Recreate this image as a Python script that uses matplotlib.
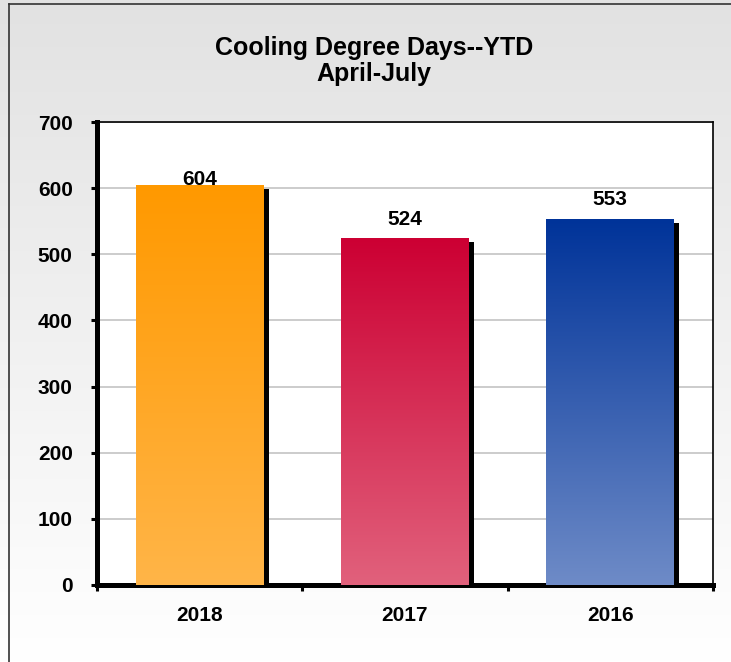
import matplotlib

matplotlib.use("Agg")

import matplotlib.pyplot as plt
import matplotlib.transforms as mtransforms
import numpy as np
from matplotlib.colors import LinearSegmentedColormap
from matplotlib.lines import Line2D

plt.rcParams["font.family"] = ["Liberation Sans", "DejaVu Sans"]
plt.rcParams["font.weight"] = "bold"

# Data
years = ["2018", "2017", "2016"]
degree_days = [604, 524, 553]
y_ticks = [0, 100, 200, 300, 400, 500, 600, 700]

# (top colour, bottom colour) of each bar's gradient
bar_colors = [("#ff9900", "#ffb548"), ("#cc0033", "#e1617c"), ("#003399", "#6e8bc7")]
label_offsets = [0, 10, 10]  # points from bar top to label baseline

DPI = 100
fig = plt.figure(figsize=(7.31, 6.62), dpi=DPI)

# light grey to white background
bg = fig.add_axes([0, 0, 1, 1], zorder=-10)
grad = np.linspace(0, 1, 256).reshape(-1, 1)
bg_cmap = LinearSegmentedColormap.from_list("bg", ["#e2e2e2", "#ffffff"])
bg.imshow(grad, cmap=bg_cmap, aspect="auto", extent=(0, 1, 0, 1), origin="upper")
bg.set_xlim(0, 1)
bg.set_ylim(0, 1)
bg.axis("off")

# frame lines along left and top edge
fig.add_artist(Line2D([8.5 / 731, 8.5 / 731], [0, 1 - 3.5 / 662], color="#333333", lw=1.2))
fig.add_artist(Line2D([8.5 / 731, 1], [1 - 3.5 / 662, 1 - 3.5 / 662], color="#333333", lw=1.2))

ax = fig.add_axes([97 / 731, 1 - 585 / 662, (713 - 97) / 731, (585 - 122) / 662])
ax.set_facecolor("white")

x = np.arange(len(years))
width = 0.623
shadow_shift = mtransforms.ScaledTranslation(5 / DPI, -4 / DPI, fig.dpi_scale_trans)

for i, (value, (top, bottom)) in enumerate(zip(degree_days, bar_colors)):
    x0 = x[i] - width / 2
    # drop shadow behind the bar
    ax.bar(x[i], value, width, color="black", zorder=2,
           transform=ax.transData + shadow_shift)
    cmap = LinearSegmentedColormap.from_list(f"bar{i}", [top, bottom])
    ax.imshow(grad, cmap=cmap, aspect="auto", origin="upper",
              extent=(x0, x0 + width, 0, value), zorder=3)
    ax.annotate(str(value), (x[i], value), xytext=(0, label_offsets[i]),
                textcoords="offset points", ha="center", va="baseline",
                fontsize=15, fontweight="bold", zorder=5)

ax.set_xlim(-0.5, len(years) - 0.5)
ax.set_ylim(0, 700)
ax.set_yticks(y_ticks)
ax.set_xticks(x)
ax.set_xticklabels(years)
ax.set_xticks(np.arange(len(years) + 1) - 0.5, minor=True)
ax.yaxis.grid(True, color="#c8c8c8", lw=1.3, zorder=0)
ax.set_axisbelow(True)

ax.tick_params(axis="y", direction="out", length=4.5, width=2.2, pad=13,
               labelsize=15)
ax.tick_params(axis="x", which="major", length=0, pad=15, labelsize=15)
ax.tick_params(axis="x", which="minor", direction="out", length=4, width=2.2)
for lab in ax.get_xticklabels() + ax.get_yticklabels():
    lab.set_fontweight("bold")

ax.spines["left"].set_linewidth(3.6)
ax.spines["bottom"].set_linewidth(3.6)
ax.spines["top"].set_linewidth(1.2)
ax.spines["right"].set_linewidth(1.2)

fig.text(374 / 731, 1 - 61 / 662, "Cooling Degree Days--YTD\nApril-July",
         ha="center", va="center", fontsize=18, fontweight="bold",
         linespacing=1.1)

fig.savefig("out.png", dpi=DPI)
